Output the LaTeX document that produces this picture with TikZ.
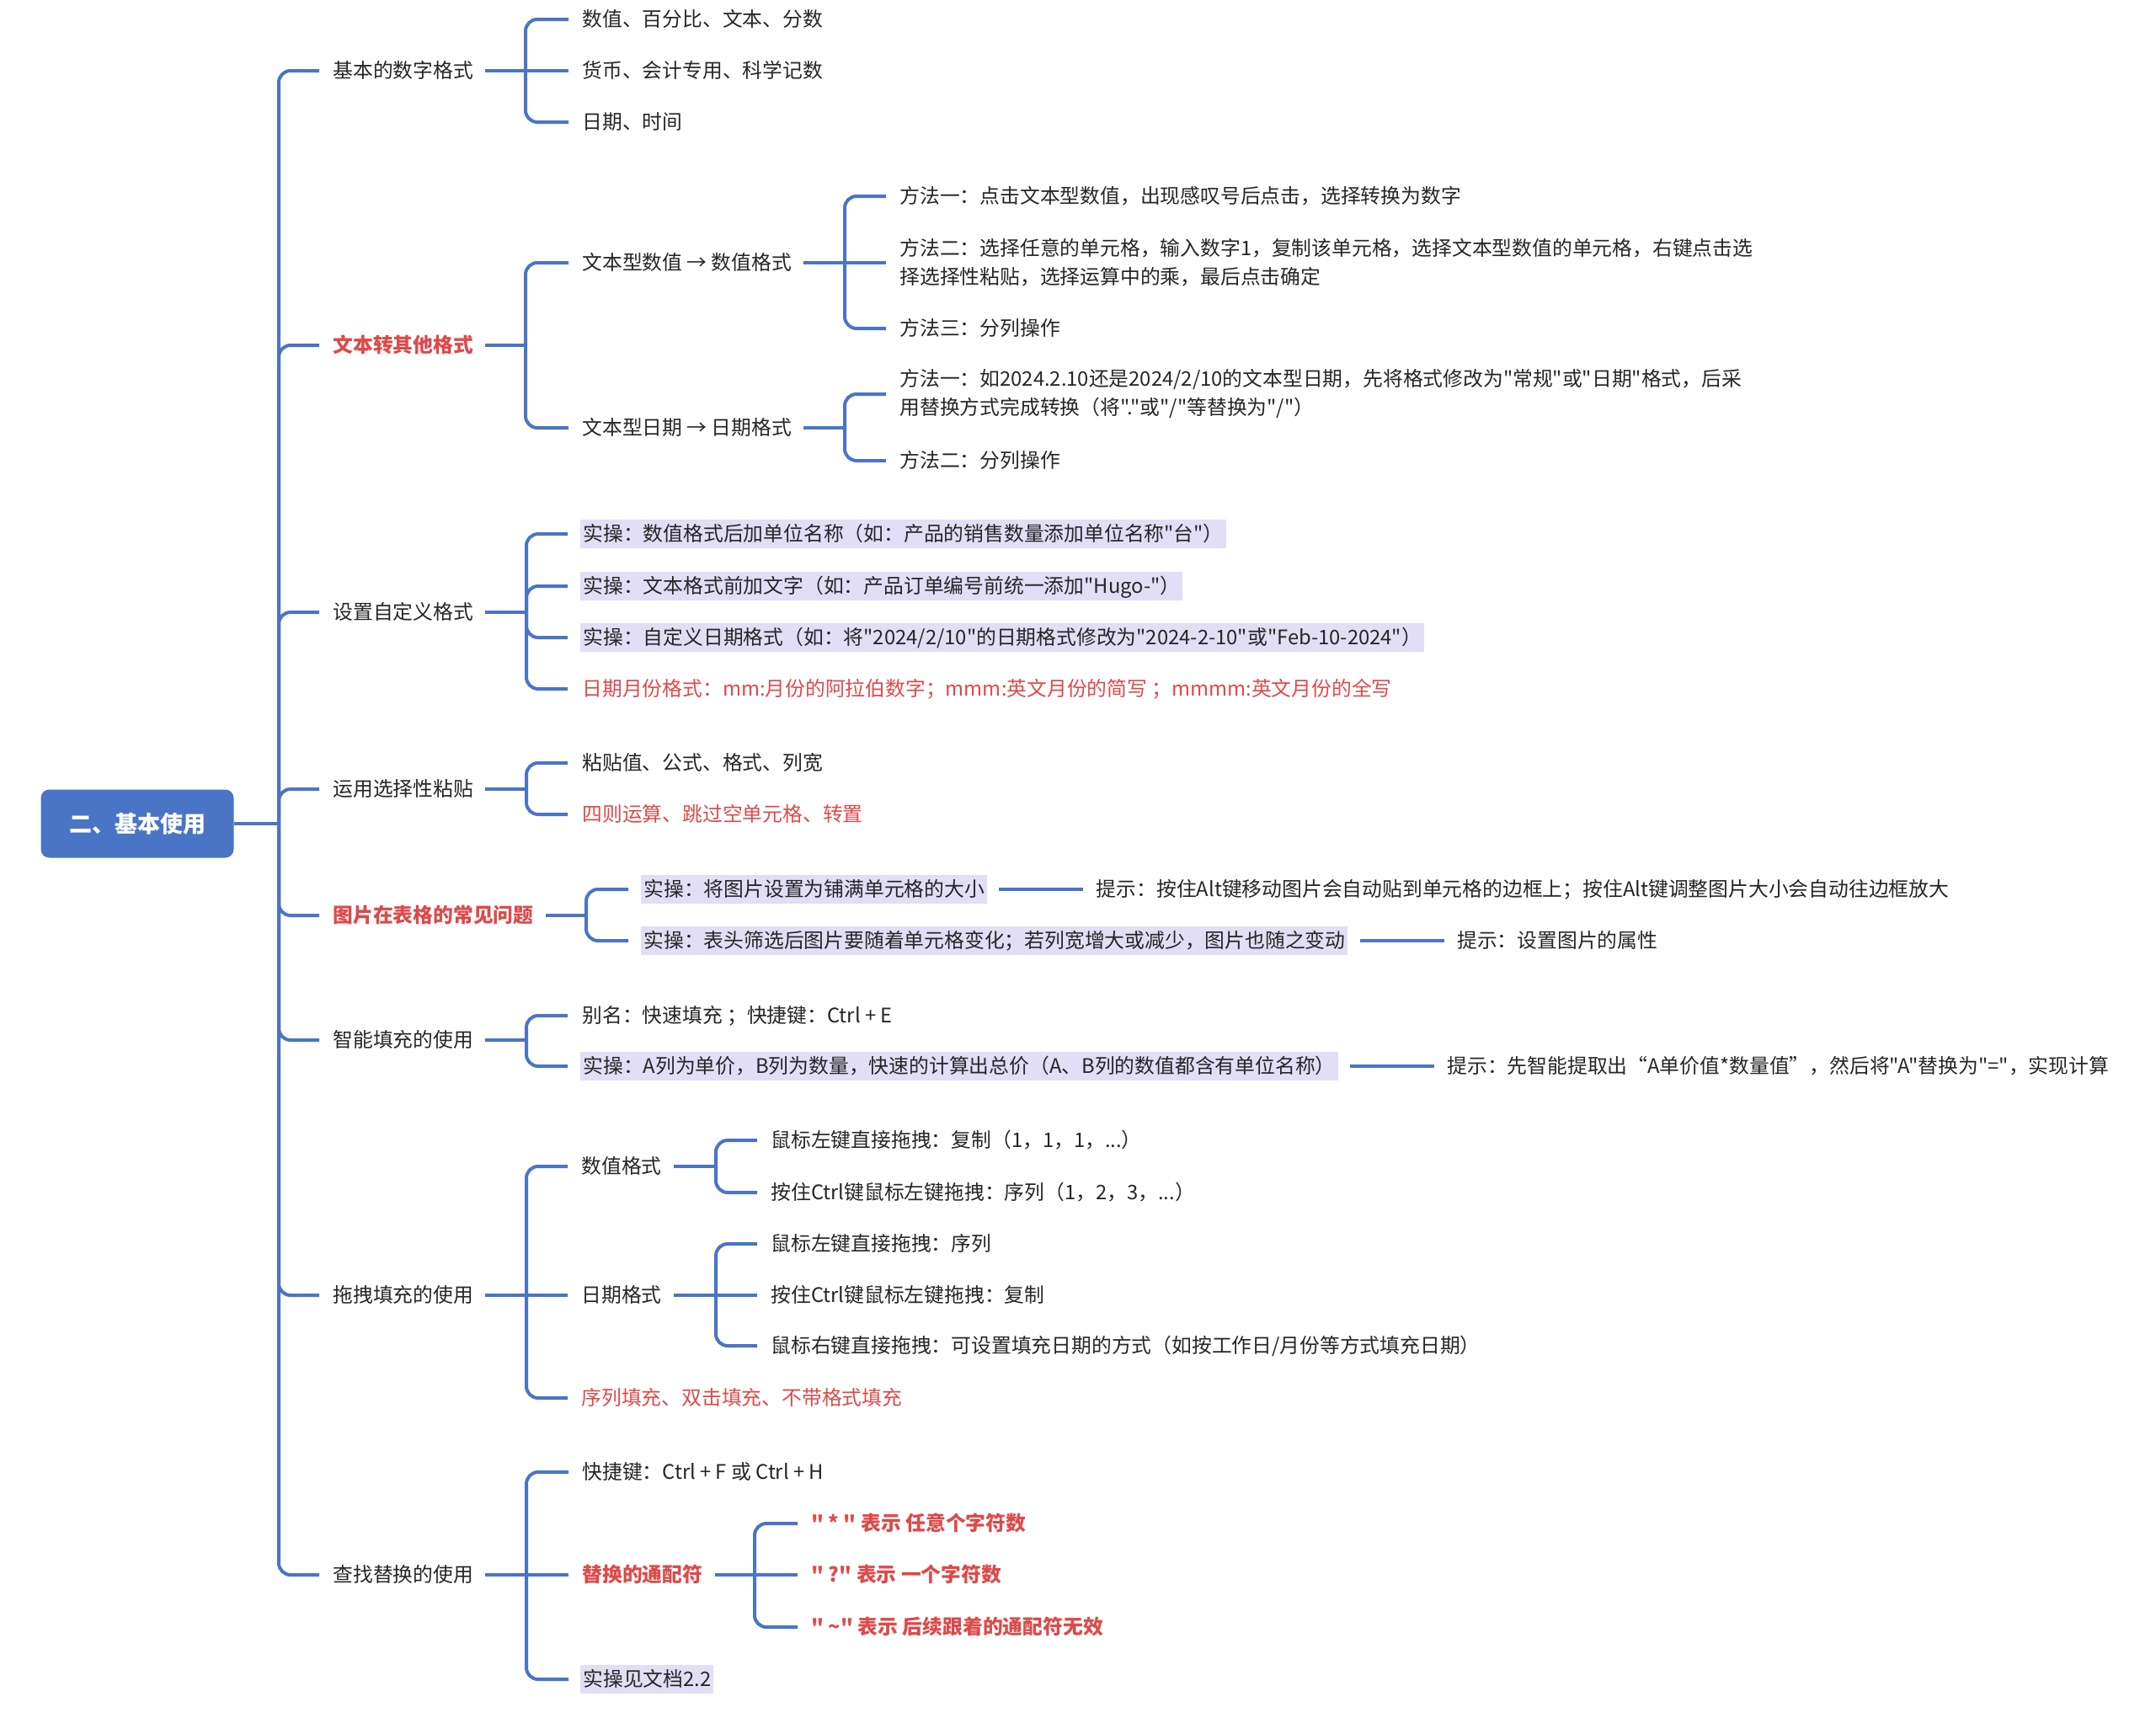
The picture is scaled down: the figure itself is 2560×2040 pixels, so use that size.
\documentclass[tikz,border=0pt]{standalone}
\usepackage{fontspec}
\newfontfamily\cjk{Noto Sans CJK SC}
\usetikzlibrary{calc}
\definecolor{lineblue}{HTML}{4A75C6}
\definecolor{rootblue}{HTML}{4A75C6}
\definecolor{redtxt}{HTML}{DD4A4A}
\definecolor{hlcol}{HTML}{E1DEF5}
\definecolor{txtcol}{HTML}{262626}
\begin{document}
\begin{tikzpicture}[x=0.5pt,y=-0.5pt,
  conn/.style={draw=lineblue,line width=2pt,rounded corners=7pt},
  stem/.style={draw=lineblue,line width=2pt},
  lbl/.style={anchor=west,inner sep=0pt,text=txtcol,font=\cjk\fontsize{11.9pt}{17pt}\selectfont,text height=10.4pt,text depth=1.45pt},
  multi/.style={anchor=west,inner sep=0pt,text=txtcol,font=\cjk\fontsize{11.9pt}{17pt}\selectfont,align=left},
  rtxt/.style={text=redtxt},
  rbold/.style={text=redtxt,font=\cjk\fontsize{11.9pt}{17pt}\selectfont\bfseries},
  hlbox/.style={fill=hlcol,inner xsep=1.5pt,inner ysep=2.6pt},
  rootbox/.style={fill=rootblue,rounded corners=5pt,minimum width=114.5pt,minimum height=40.5pt,inner sep=0pt,text=white,font=\cjk\fontsize{13.5pt}{16pt}\selectfont\bfseries}
]
\useasboundingbox[fill=white] (0,0) rectangle (2560,2040);

% root
\node[rootbox] (root) at (163,978) {二、基本使用};
\coordinate (T0) at (331,978);
\draw[stem] (root.east) -- (T0);

% level 1
\node[lbl] (a) at (395,84) {基本的数字格式};
\node[lbl,rbold] (b) at (395,410) {文本转其他格式};
\node[lbl] (c) at (395,727) {设置自定义格式};
\node[lbl] (d) at (395,937) {运用选择性粘贴};
\node[lbl,rbold] (e) at (395,1087) {图片在表格的常见问题};
\node[lbl] (f) at (395,1235) {智能填充的使用};
\node[lbl] (g) at (395,1538) {拖拽填充的使用};
\node[lbl] (h) at (395,1870) {查找替换的使用};
\foreach \n in {a,b,c,d,e,f,g,h}{
  \draw[conn] (T0) |- ($(\n.west)+(-16,0)$);
}

% group a
\coordinate (Ja) at (624,84);
\draw[stem] ($(a.east)+(14,0)$) -- (Ja);
\node[lbl] (a1) at (691,23) {数值、百分比、文本、分数};
\node[lbl] (a2) at (691,84) {货币、会计专用、科学记数};
\node[lbl] (a3) at (691,145) {日期、时间};
\draw[conn] (Ja) |- ($(a1.west)+(-16,0)$);
\draw[stem] (Ja) -- ($(a2.west)+(-16,0)$);
\draw[conn] (Ja) |- ($(a3.west)+(-16,0)$);

% group b
\coordinate (Jb) at (624,410);
\draw[stem] ($(b.east)+(14,0)$) -- (Jb);
\node[lbl] (b1) at (691,312) {文本型数值 → 数值格式};
\node[lbl] (b2) at (691,508) {文本型日期 → 日期格式};
\draw[conn] (Jb) |- ($(b1.west)+(-16,0)$);
\draw[conn] (Jb) |- ($(b2.west)+(-16,0)$);

\coordinate (Jb1) at (1003,312);
\draw[stem] ($(b1.east)+(14,0)$) -- (Jb1);
\node[lbl] (b11) at (1068,233) {方法一：点击文本型数值，出现感叹号后点击，选择转换为数字};
\node[multi] (b12) at (1068,312) {方法二：选择任意的单元格，输入数字1，复制该单元格，选择文本型数值的单元格，右键点击选\\择选择性粘贴，选择运算中的乘，最后点击确定};
\node[lbl] (b13) at (1068,390) {方法三：分列操作};
\draw[conn] (Jb1) |- ($(b11.west)+(-16,0)$);
\draw[stem] (Jb1) -- ($(b12.west)+(-16,0)$);
\draw[conn] (Jb1) |- ($(b13.west)+(-16,0)$);

\coordinate (Jb2) at (1003,508);
\draw[stem] ($(b2.east)+(14,0)$) -- (Jb2);
\node[multi] (b21) at (1068,468) {方法一：如2024.2.10还是2024/2/10的文本型日期，先将格式修改为"常规"或"日期"格式，后采\\用替换方式完成转换（将"."或"/"等替换为"/"）};
\node[lbl] (b22) at (1068,547) {方法二：分列操作};
\draw[conn] (Jb2) |- ($(b21.west)+(-16,0)$);
\draw[conn] (Jb2) |- ($(b22.west)+(-16,0)$);

% group c
\coordinate (Jc) at (625,727);
\draw[stem] ($(c.east)+(14,0)$) -- (Jc);
\node[lbl,hlbox] (c1) at (689,634) {实操：数值格式后加单位名称（如：产品的销售数量添加单位名称"台"）};
\node[lbl,hlbox] (c2) at (689,696) {实操：文本格式前加文字（如：产品订单编号前统一添加"Hugo-"）};
\node[lbl,hlbox] (c3) at (689,757) {实操：自定义日期格式（如：将"2024/2/10"的日期格式修改为"2024-2-10"或"Feb-10-2024"）};
\node[lbl,rtxt] (c4) at (691,818) {日期月份格式：mm:月份的阿拉伯数字；mmm:英文月份的简写 ；mmmm:英文月份的全写};
\foreach \n in {c1,c2,c3}{
  \draw[conn] (Jc) |- ($(\n.west)+(-15,0)$);
}
\draw[conn] (Jc) |- ($(c4.west)+(-17,0)$);

% group d
\coordinate (Jd) at (625,937);
\draw[stem] ($(d.east)+(14,0)$) -- (Jd);
\node[lbl] (d1) at (691,906) {粘贴值、公式、格式、列宽};
\node[lbl,rtxt] (d2) at (691,967) {四则运算、跳过空单元格、转置};
\draw[conn] (Jd) |- ($(d1.west)+(-17,0)$);
\draw[conn] (Jd) |- ($(d2.west)+(-17,0)$);

% group e
\coordinate (Je) at (696,1087);
\draw[stem] ($(e.east)+(14,0)$) -- (Je);
\node[lbl,hlbox] (e1) at (761,1056) {实操：将图片设置为铺满单元格的大小};
\node[lbl,hlbox] (e2) at (761,1117) {实操：表头筛选后图片要随着单元格变化；若列宽增大或减少，图片也随之变动};
\draw[conn] (Je) |- ($(e1.west)+(-15,0)$);
\draw[conn] (Je) |- ($(e2.west)+(-15,0)$);
\node[lbl] (e1h) at ($(e1.east)+(129,0)$) {提示：按住Alt键移动图片会自动贴到单元格的边框上；按住Alt键调整图片大小会自动往边框放大};
\node[lbl] (e2h) at ($(e2.east)+(129,0)$) {提示：设置图片的属性};
\draw[stem] ($(e1.east)+(14,0)$) -- ($(e1h.west)+(-15,0)$);
\draw[stem] ($(e2.east)+(14,0)$) -- ($(e2h.west)+(-15,0)$);

% group f
\coordinate (Jf) at (625,1235);
\draw[stem] ($(f.east)+(14,0)$) -- (Jf);
\node[lbl] (f1) at (691,1206) {别名：快速填充 ；快捷键：Ctrl + E};
\node[lbl,hlbox] (f2) at (689,1266) {实操：A列为单价，B列为数量，快速的计算出总价（A、B列的数值都含有单位名称）};
\draw[conn] (Jf) |- ($(f1.west)+(-17,0)$);
\draw[conn] (Jf) |- ($(f2.west)+(-15,0)$);
\node[lbl] (f2h) at ($(f2.east)+(129,0)$) {提示：先智能提取出“A单价值*数量值”，然后将"A"替换为"="，实现计算};
\draw[stem] ($(f2.east)+(14,0)$) -- ($(f2h.west)+(-15,0)$);

% group g
\coordinate (Jg) at (625,1538);
\draw[stem] ($(g.east)+(14,0)$) -- (Jg);
\node[lbl] (g1) at (690,1385) {数值格式};
\node[lbl] (g2) at (690,1538) {日期格式};
\node[lbl,rtxt] (g3) at (690,1660) {序列填充、双击填充、不带格式填充};
\draw[conn] (Jg) |- ($(g1.west)+(-16,0)$);
\draw[stem] (Jg) -- ($(g2.west)+(-16,0)$);
\draw[conn] (Jg) |- ($(g3.west)+(-16,0)$);

\coordinate (Jg1) at (850,1385);
\draw[stem] ($(g1.east)+(14,0)$) -- (Jg1);
\node[lbl] (g11) at (915,1354) {鼠标左键直接拖拽：复制（1，1，1，...）};
\node[lbl] (g12) at (915,1416) {按住Ctrl键鼠标左键拖拽：序列（1，2，3，...）};
\draw[conn] (Jg1) |- ($(g11.west)+(-16,0)$);
\draw[conn] (Jg1) |- ($(g12.west)+(-16,0)$);

\coordinate (Jg2) at (850,1538);
\draw[stem] ($(g2.east)+(14,0)$) -- (Jg2);
\node[lbl] (g21) at (915,1477) {鼠标左键直接拖拽：序列};
\node[lbl] (g22) at (915,1538) {按住Ctrl键鼠标左键拖拽：复制};
\node[lbl] (g23) at (915,1598) {鼠标右键直接拖拽：可设置填充日期的方式（如按工作日/月份等方式填充日期）};
\draw[conn] (Jg2) |- ($(g21.west)+(-16,0)$);
\draw[stem] (Jg2) -- ($(g22.west)+(-16,0)$);
\draw[conn] (Jg2) |- ($(g23.west)+(-16,0)$);

% group h
\coordinate (Jh) at (625,1870);
\draw[stem] ($(h.east)+(14,0)$) -- (Jh);
\node[lbl] (h1) at (691,1748) {快捷键：Ctrl + F 或 Ctrl + H};
\node[lbl,rbold] (h2) at (691,1870) {替换的通配符};
\node[lbl,hlbox] (h3) at (689,1994) {实操见文档2.2};
\draw[conn] (Jh) |- ($(h1.west)+(-16,0)$);
\draw[stem] (Jh) -- ($(h2.west)+(-16,0)$);
\draw[conn] (Jh) |- ($(h3.west)+(-14,0)$);

\coordinate (Jh2) at (896,1870);
\draw[stem] ($(h2.east)+(14,0)$) -- (Jh2);
\node[lbl,rbold] (h21) at (963,1809) {" * " 表示 任意个字符数};
\node[lbl,rbold] (h22) at (963,1870) {" ?" 表示 一个字符数};
\node[lbl,rbold] (h23) at (963,1932) {" \textasciitilde" 表示 后续跟着的通配符无效};
\draw[conn] (Jh2) |- ($(h21.west)+(-16,0)$);
\draw[stem] (Jh2) -- ($(h22.west)+(-16,0)$);
\draw[conn] (Jh2) |- ($(h23.west)+(-16,0)$);
\end{tikzpicture}
\end{document}
